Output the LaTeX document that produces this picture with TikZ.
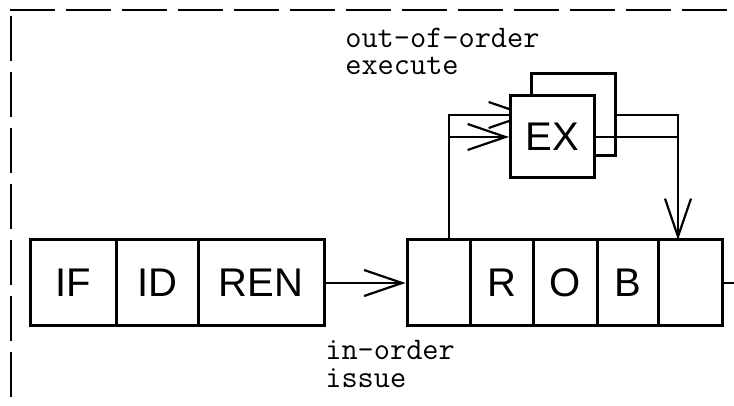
\documentclass[tikz,border=0pt]{standalone}
\usepackage{fontspec}
\setmainfont{Liberation Sans}
\usetikzlibrary{arrows.meta}
\begin{document}
\begin{tikzpicture}[x=0.5pt,y=-0.5pt,
  cell/.style={draw, line width=1.5pt, minimum height=43pt, inner sep=0pt,
    font=\fontsize{20}{24}\selectfont, anchor=center},
  exbox/.style={draw, fill=white, line width=1.5pt, minimum width=42pt,
    minimum height=41pt, inner sep=0pt, font=\fontsize{20}{24}\selectfont},
  arr/.style={line width=1.3pt, -{Straight Barb[length=19pt,width=13pt,line width=1.1pt]}},
  wire/.style={line width=1.3pt},
  border/.style={line width=1.1pt, dash pattern=on 22.5pt off 5.5pt},
  lbl/.style={anchor=base west, inner sep=0pt, font=\ttfamily\fontsize{15.7}{15}\selectfont}]
\useasboundingbox (0,0) rectangle (734,406);
% dashed frame
\draw[border] (10,10) -- (734,10);
\draw[border] (11,16) -- (11,406);
% front-end stages
\node[cell, minimum width=43pt] (if) at (73,283) {IF};
\node[cell, minimum width=41pt] (id) at (157,283) {ID};
\node[cell, minimum width=63pt] (ren) at (261,283) {REN};
% ROB
\node[cell, minimum width=31.5pt] (rob1) at (438.5,283) {};
\node[cell, minimum width=31.5pt] (rob2) at (501.5,283) {R};
\node[cell, minimum width=32pt] (rob3) at (565,283) {O};
\node[cell, minimum width=30.5pt] (rob4) at (627.5,283) {B};
\node[cell, minimum width=32pt] (rob5) at (690,283) {};
% execute units
\node[exbox] (exback) at (573.5,115) {};
\coordinate (tap) at (449,240);
\coordinate (drop) at (678,240);
\coordinate (out) at (734,283);
\draw[arr] (ren.east) -- (rob1.west);
\draw[arr] (tap) |- (exback.west);
\draw[arr] (exback.east) -| (drop);
\draw[wire] (rob5.east) -- (out);
\node[exbox] (exfront) at (552.5,137) {EX};
\draw[arr] (tap) |- (exfront.west);
\draw[wire] (exfront.east) -- (exfront.east -| drop);
% labels
\node[lbl] (ooo1) at (345,48) {out-of-order};
\node[lbl] (ooo2) at (345,75) {execute};
\node[lbl] (io1) at (325,359) {in-order};
\node[lbl] (io2) at (325,387) {issue};
\end{tikzpicture}
\end{document}
